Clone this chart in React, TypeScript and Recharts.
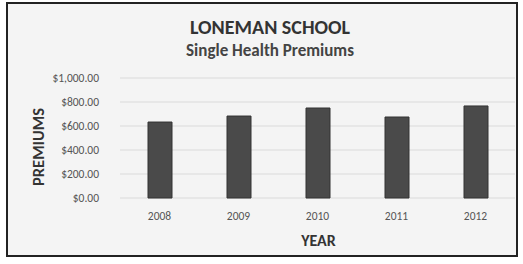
import { Bar, BarChart, CartesianGrid, XAxis, YAxis, Label } from "recharts"

const years = ["2008", "2009", "2010", "2011", "2012"]
const premiums = [633, 683, 750, 675, 767]
const yTicks = [0, 200, 400, 600, 800, 1000]

const data = years.map((year, i) => ({ year, premium: premiums[i] }))

const font = "Carlito, Calibri, Lato, sans-serif"

const money = (v: number) =>
  "$" + v.toLocaleString("en-US", { minimumFractionDigits: 2, maximumFractionDigits: 2 })

export default function App() {
  return (
    <div
      style={{
        position: "absolute",
        left: 6,
        top: 2,
        width: 508,
        height: 251,
        border: "2px solid #222",
        background: "#f4f4f4",
        fontFamily: font,
      }}
    >
      <div
        style={{
          position: "absolute",
          left: 0,
          width: 524,
          top: 11,
          textAlign: "center",
          fontSize: 20,
          fontWeight: 700,
          color: "#333",
        }}
      >
        LONEMAN SCHOOL
      </div>
      <div
        style={{
          position: "absolute",
          left: 0,
          width: 524,
          top: 36,
          textAlign: "center",
          fontSize: 17,
          fontWeight: 700,
          color: "#444",
        }}
      >
        Single Health Premiums
      </div>
      <div
        style={{
          position: "absolute",
          left: 30 - 60,
          top: 143 - 10,
          width: 120,
          height: 20,
          lineHeight: "20px",
          textAlign: "center",
          transform: "rotate(-90deg)",
          fontSize: 16.5,
          fontWeight: 700,
          color: "#333",
          zIndex: 1,
        }}
      >
        PREMIUMS
      </div>
      <BarChart
        width={508}
        height={251}
        data={data}
        margin={{ top: 74, right: 1, left: 0, bottom: 0 }}
        barCategoryGap={0}
      >
        <CartesianGrid vertical={false} stroke="#dadada" />
        <XAxis
          dataKey="year"
          height={57}
          axisLine={false}
          tickLine={false}
          tickSize={0}
          tickMargin={14}
          tick={{ fill: "#555", fontSize: 11.5, fontFamily: font }}
        >
          <Label
            value="YEAR"
            position="insideBottom"
            offset={9}
            dx={1}
            style={{ fill: "#333", fontSize: 16, fontWeight: 700, fontFamily: font }}
          />
        </XAxis>
        <YAxis
          width={112}
          domain={[0, 1000]}
          ticks={yTicks}
          axisLine={false}
          tickLine={false}
          tickSize={0}
          tickMargin={21}
          tickFormatter={money}
          tick={{ fill: "#555", fontSize: 11.5, fontFamily: font }}
        />
        <Bar
          dataKey="premium"
          fill="#4a4a4a"
          stroke="#333"
          barSize={24}
          isAnimationActive={false}
        />
      </BarChart>
    </div>
  )
}
